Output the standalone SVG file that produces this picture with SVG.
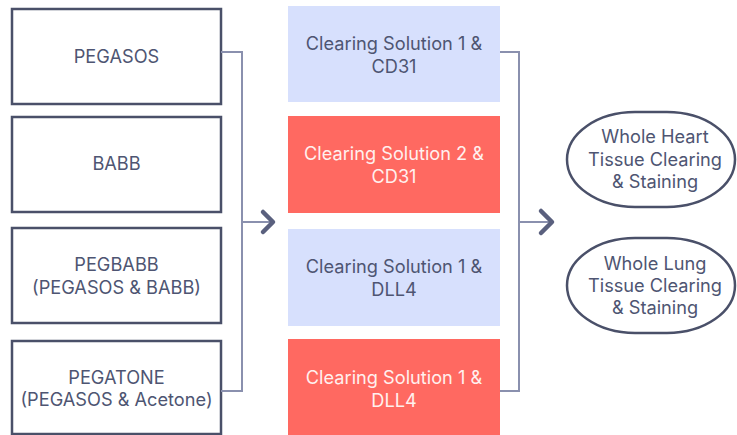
<svg xmlns="http://www.w3.org/2000/svg" width="737" height="435" viewBox="0 0 737 435">
<style>
.lbox{fill:#ffffff;stroke:#4a5069;stroke-width:2.5}
.blue{fill:#d7e0fd}
.red{fill:#ff6961}
.oval{fill:#ffffff;stroke:#4a5069;stroke-width:2.5}
text{font-family:Inter,"Noto Sans","Liberation Sans",sans-serif;font-size:18.2px;text-anchor:middle}
.dk{fill:#4e5572}
.lt{fill:#fff0ee}
.conn{fill:none;stroke:#8a90ae;stroke-width:2}
.chev{fill:none;stroke:#5a607e;stroke-width:4.5;stroke-linecap:round;stroke-linejoin:round}
</style>
<rect width="737" height="435" fill="#ffffff"/>
<g id="pegasos"><rect class="lbox" x="12" y="9" width="209" height="95"/><text class="dk" x="116.5" y="63">PEGASOS</text></g>
<g id="babb"><rect class="lbox" x="12" y="117" width="209" height="95"/><text class="dk" x="116.5" y="170">BABB</text></g>
<g id="pegbabb"><rect class="lbox" x="12" y="228" width="209" height="95"/><text class="dk" x="116.5" y="271">PEGBABB</text><text class="dk" x="116.5" y="294">(PEGASOS &amp; BABB)</text></g>
<g id="pegatone"><rect class="lbox" x="12" y="341" width="209" height="93"/><text class="dk" x="116.5" y="384">PEGATONE</text><text class="dk" x="116.5" y="406">(PEGASOS &amp; Acetone)</text></g>

<g id="cs1-cd31"><rect class="blue" x="288" y="6" width="212" height="96"/><text class="dk" x="394" y="50">Clearing Solution 1 &amp;</text><text class="dk" x="394" y="73">CD31</text></g>
<g id="cs2-cd31"><rect class="red" x="288" y="116" width="212" height="97"/><text class="lt" x="394" y="160">Clearing Solution 2 &amp;</text><text class="lt" x="394" y="183">CD31</text></g>
<g id="cs1-dll4-a"><rect class="blue" x="288" y="229" width="212" height="97"/><text class="dk" x="394" y="273">Clearing Solution 1 &amp;</text><text class="dk" x="394" y="296">DLL4</text></g>
<g id="cs1-dll4-b"><rect class="red" x="288" y="339" width="212" height="96"/><text class="lt" x="394" y="384">Clearing Solution 1 &amp;</text><text class="lt" x="394" y="407">DLL4</text></g>

<g id="heart"><rect class="oval" x="567" y="112" width="168" height="95" rx="68" ry="47.5"/><text class="dk" x="655" y="143">Whole Heart</text><text class="dk" x="655" y="166">Tissue Clearing</text><text class="dk" x="655" y="188">&amp; Staining</text></g>
<g id="lung"><rect class="oval" x="567" y="238" width="168" height="95" rx="68" ry="47.5"/><text class="dk" x="655" y="270">Whole Lung</text><text class="dk" x="655" y="292">Tissue Clearing</text><text class="dk" x="655" y="314">&amp; Staining</text></g>

<g id="connectors">
<path class="conn" d="M221 52 H242 V391 H221"/>
<path class="conn" d="M242 222 H270"/>
<path class="chev" d="M263 212 L273 222 L263 232"/>
<path class="conn" d="M500 52 H519 V391 H500"/>
<path class="conn" d="M519 222 H549"/>
<path class="chev" d="M541 211 L552 222 L541 233"/>
</g>
</svg>
